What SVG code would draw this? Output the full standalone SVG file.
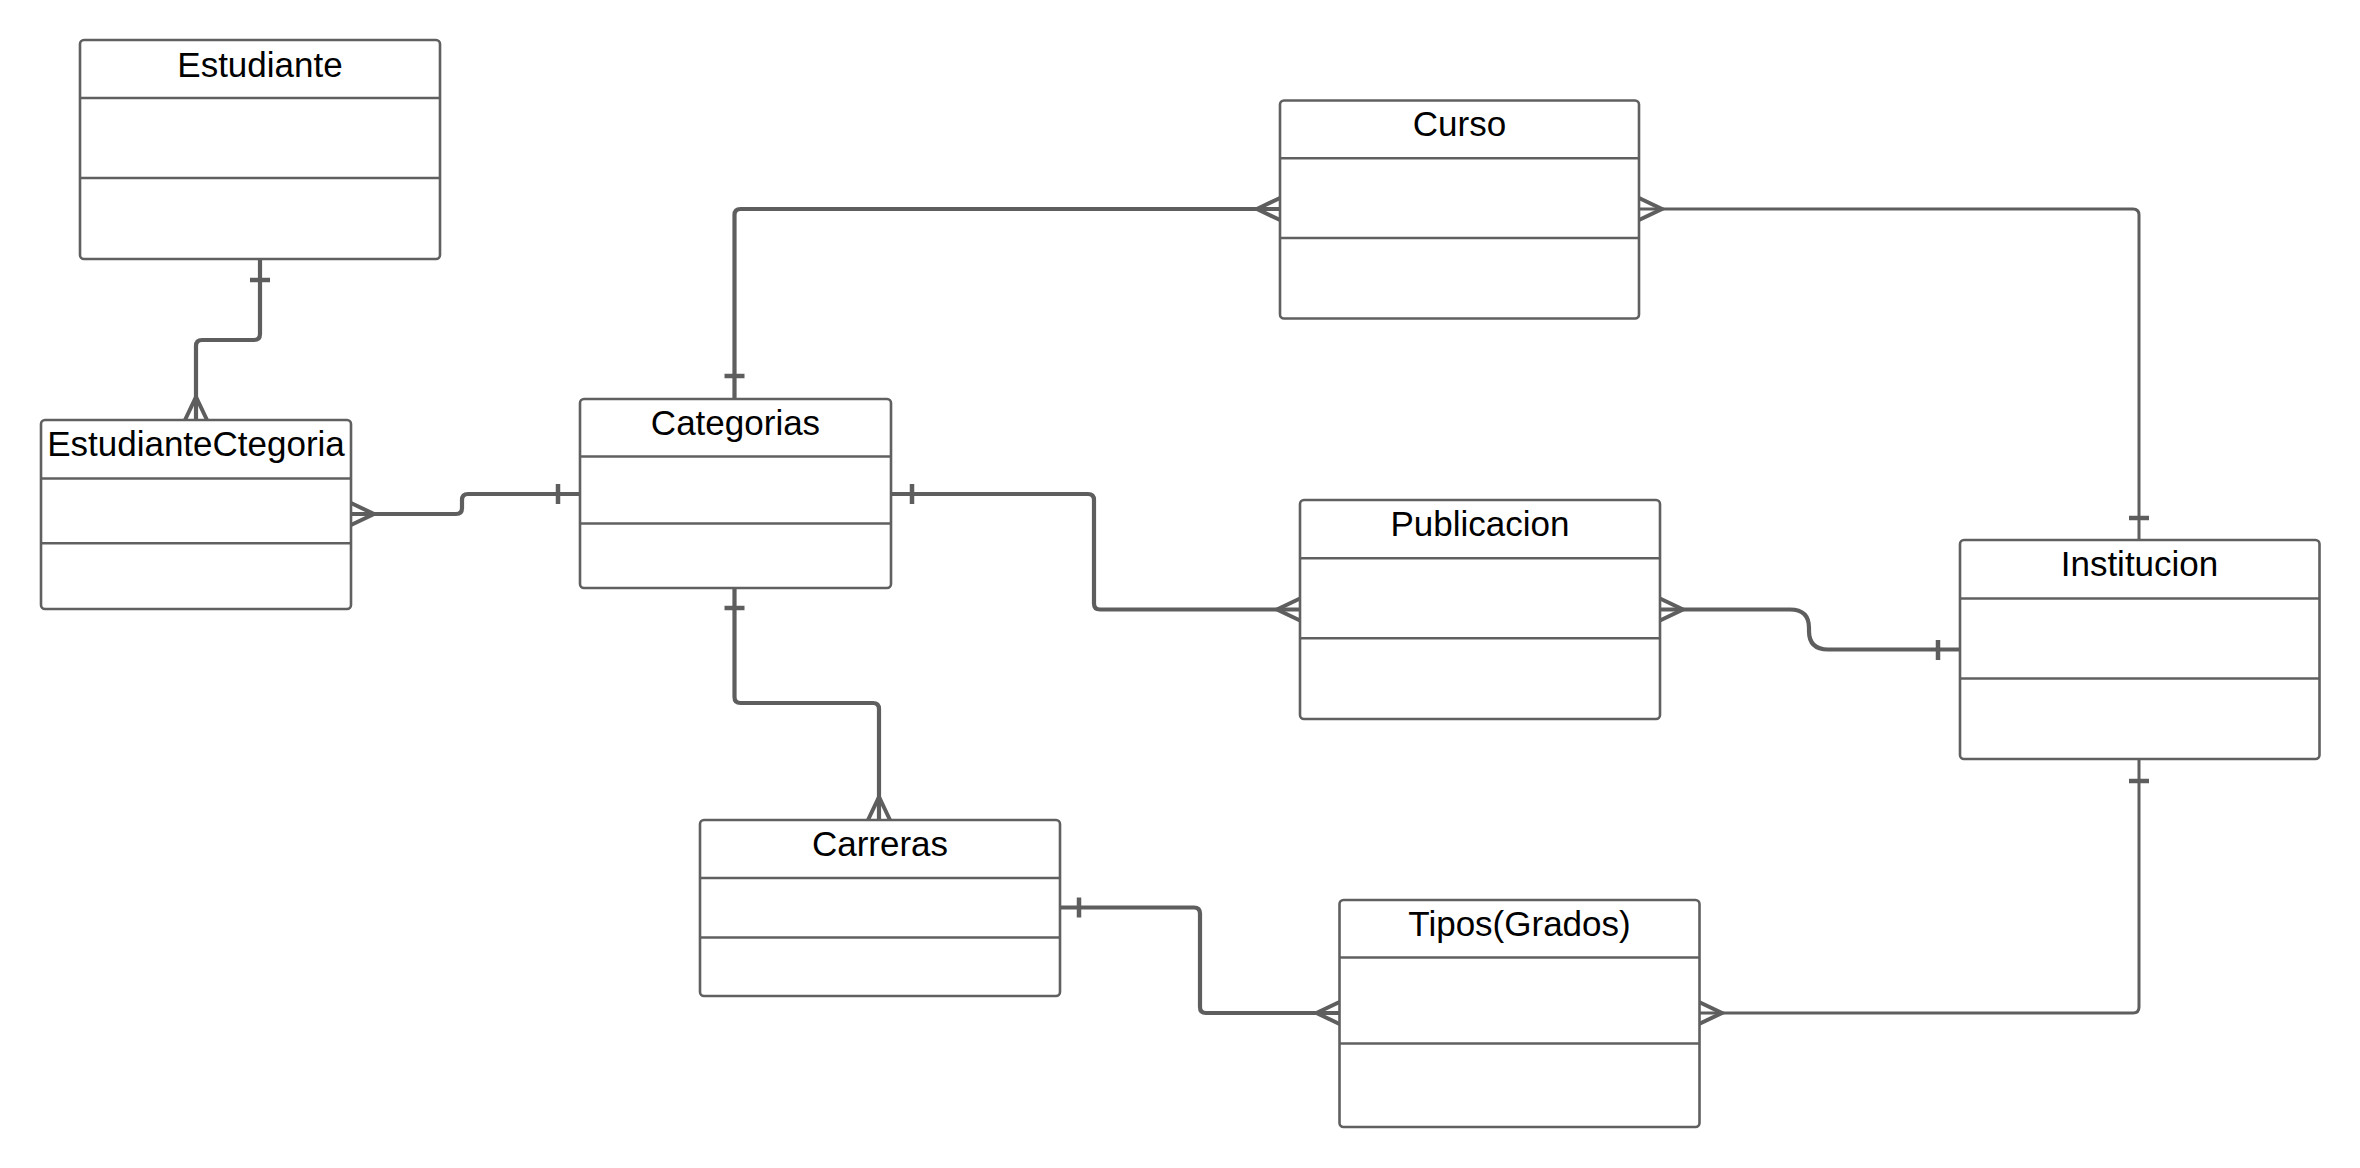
<svg xmlns="http://www.w3.org/2000/svg" width="2360" height="1168" viewBox="0 0 2360 1168">
<style>
.box{fill:#ffffff;stroke:#606060;stroke-width:2.6}
.div{stroke:#606060;stroke-width:2.6}
.t{font-family:"Liberation Sans",Arial,sans-serif;font-size:35px;fill:#000000;text-anchor:middle}
.c{fill:none;stroke:#5e5e5e;stroke-width:4.2;stroke-linejoin:round}
.cn{fill:none;stroke:#5e5e5e;stroke-width:3;stroke-linejoin:round}
.m{fill:none;stroke:#5e5e5e;stroke-width:4}
.k{fill:none;stroke:#5e5e5e;stroke-width:4.5}
</style>
<rect width="2360" height="1168" fill="#ffffff"/>
<g id="connectors">
  <g id="c-estudiante-ec">
    <path class="c" d="M260,259 V334 Q260,340 254,340 H202 Q196,340 196,346 V420"/>
    <path class="k" d="M250,280 H270"/>
    <path class="m" d="M185,420 L196,397 L207,420"/>
  </g>
  <g id="c-ec-categorias">
    <path class="c" d="M351,514 H456 Q462,514 462,508 V500 Q462,494 468,494 H580"/>
    <path class="k" d="M558,484 V504"/>
    <path class="m" d="M351,503 L374,514 L351,525"/>
  </g>
  <g id="c-categorias-curso">
    <path class="c" d="M734.5,399 V215 Q734.5,209 740.5,209 H1280"/>
    <path class="k" d="M724.5,376 H744.5"/>
    <path class="m" d="M1280,198 L1257,209 L1280,220"/>
  </g>
  <g id="c-categorias-publicacion">
    <path class="c" d="M891,494 H1088 Q1094,494 1094,500 V603.5 Q1094,609.5 1100,609.5 H1300"/>
    <path class="k" d="M912,484 V504"/>
    <path class="m" d="M1300,598.5 L1277,609.5 L1300,620.5"/>
  </g>
  <g id="c-curso-institucion">
    <path class="cn" d="M1639,209 H2133 Q2139,209 2139,215 V540"/>
    <path class="m" d="M1639,198 L1662,209 L1639,220"/>
    <path class="k" d="M2129,518 H2149"/>
  </g>
  <g id="c-publicacion-institucion">
    <path class="c" d="M1660,609.5 H1790 Q1809,609.5 1809,628 V631 Q1809,649.5 1828,649.5 H1961"/>
    <path class="m" d="M1660,598.5 L1683,609.5 L1660,620.5"/>
    <path class="k" d="M1938,640 V660"/>
  </g>
  <g id="c-categorias-carreras">
    <path class="c" d="M734.5,588 V697 Q734.5,703 740.5,703 H873 Q879,703 879,709 V820"/>
    <path class="k" d="M724.5,608 H744.5"/>
    <path class="m" d="M868,820 L879,797 L890,820"/>
  </g>
  <g id="c-carreras-tipos">
    <path class="c" d="M1060,907.5 H1194 Q1200,907.5 1200,913.5 V1007 Q1200,1013 1206,1013 H1339.5"/>
    <path class="k" d="M1079,897.5 V917.5"/>
    <path class="m" d="M1339.5,1002 L1316.5,1013 L1339.5,1024"/>
  </g>
  <g id="c-tipos-institucion">
    <path class="cn" d="M1699,1013 H2133 Q2139,1013 2139,1007 V760"/>
    <path class="m" d="M1699,1002 L1722,1013 L1699,1024"/>
    <path class="k" d="M2129,781 H2149"/>
  </g>
</g>
<g id="estudiante">
  <rect class="box" x="80" y="40" width="360" height="219" rx="4"/>
  <line class="div" x1="80" y1="98" x2="440" y2="98"/>
  <line class="div" x1="80" y1="178" x2="440" y2="178"/>
  <text class="t" x="260" y="77">Estudiante</text>
</g>
<g id="estudiantectegoria">
  <rect class="box" x="41" y="420" width="310" height="189" rx="4"/>
  <line class="div" x1="41" y1="478.5" x2="351" y2="478.5"/>
  <line class="div" x1="41" y1="543.3" x2="351" y2="543.3"/>
  <text class="t" x="196" y="456">EstudianteCtegoria</text>
</g>
<g id="categorias">
  <rect class="box" x="580" y="399" width="311" height="189" rx="4"/>
  <line class="div" x1="580" y1="456.5" x2="891" y2="456.5"/>
  <line class="div" x1="580" y1="523.5" x2="891" y2="523.5"/>
  <text class="t" x="735.5" y="435">Categorias</text>
</g>
<g id="curso">
  <rect class="box" x="1280" y="100.5" width="359" height="218" rx="4"/>
  <line class="div" x1="1280" y1="158.3" x2="1639" y2="158.3"/>
  <line class="div" x1="1280" y1="238" x2="1639" y2="238"/>
  <text class="t" x="1459.5" y="136">Curso</text>
</g>
<g id="publicacion">
  <rect class="box" x="1300" y="500" width="360" height="219" rx="4"/>
  <line class="div" x1="1300" y1="558.3" x2="1660" y2="558.3"/>
  <line class="div" x1="1300" y1="638.2" x2="1660" y2="638.2"/>
  <text class="t" x="1480" y="536">Publicacion</text>
</g>
<g id="institucion">
  <rect class="box" x="1960" y="540" width="359.5" height="219" rx="4"/>
  <line class="div" x1="1960" y1="598.5" x2="2319.5" y2="598.5"/>
  <line class="div" x1="1960" y1="678.5" x2="2319.5" y2="678.5"/>
  <text class="t" x="2139.5" y="576">Institucion</text>
</g>
<g id="carreras">
  <rect class="box" x="700" y="820" width="360" height="176" rx="4"/>
  <line class="div" x1="700" y1="878" x2="1060" y2="878"/>
  <line class="div" x1="700" y1="937.5" x2="1060" y2="937.5"/>
  <text class="t" x="880" y="856">Carreras</text>
</g>
<g id="tipos">
  <rect class="box" x="1339.5" y="900" width="360" height="227" rx="4"/>
  <line class="div" x1="1339.5" y1="957.5" x2="1699.5" y2="957.5"/>
  <line class="div" x1="1339.5" y1="1043.5" x2="1699.5" y2="1043.5"/>
  <text class="t" x="1519.5" y="936">Tipos(Grados)</text>
</g>
</svg>
